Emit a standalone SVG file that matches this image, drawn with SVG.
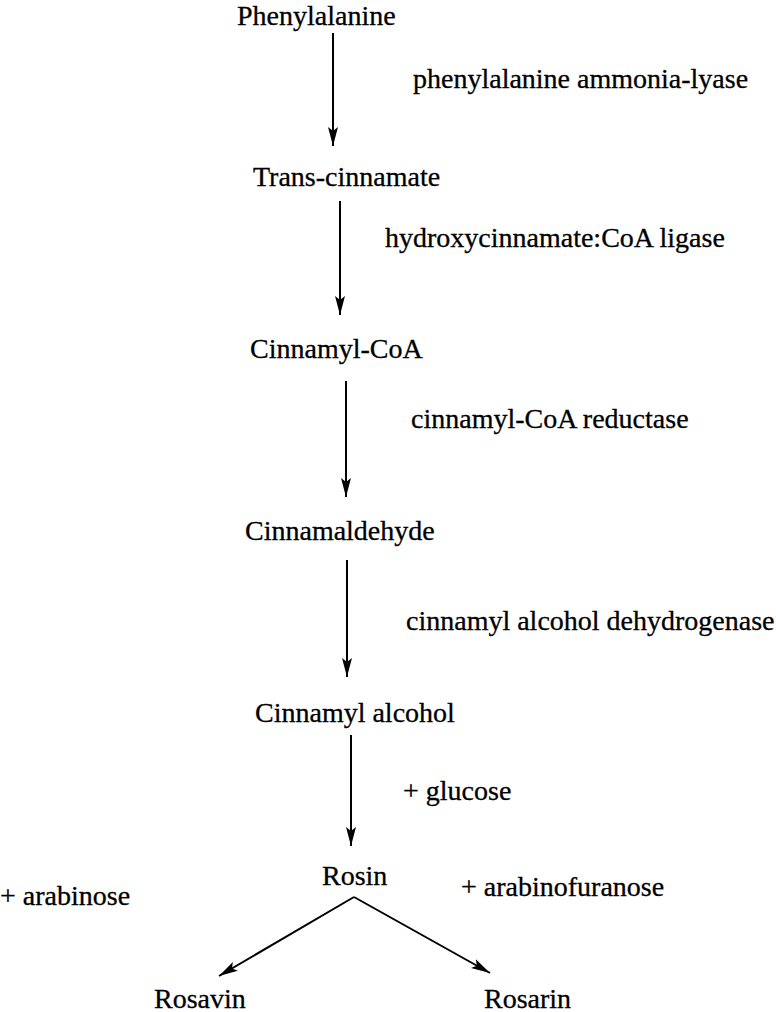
<svg xmlns="http://www.w3.org/2000/svg" width="776" height="1012" viewBox="0 0 776 1012">
<style>
text{font-family:"Liberation Serif","Times New Roman",serif;font-size:28px;fill:#000;stroke:#000;stroke-width:0.3}
.c line{stroke:#000;stroke-width:2;fill:none}
</style>
<defs>
<marker id="ah" viewBox="0 0 20 12" refX="19" refY="6" markerWidth="20" markerHeight="12" markerUnits="userSpaceOnUse" orient="auto">
<path d="M0,1 L19,6 L0,11 L4,6 Z" fill="#000"/>
</marker>
</defs>
<rect width="776" height="1012" fill="#fff"/>
<g id="n-phe"><text x="237" y="25">Phenylalanine</text></g>
<g id="n-trans"><text x="253" y="186">Trans-cinnamate</text></g>
<g id="n-ccoa"><text x="250" y="358">Cinnamyl-CoA</text></g>
<g id="n-cald"><text x="245" y="540">Cinnamaldehyde</text></g>
<g id="n-calc"><text x="255" y="722">Cinnamyl alcohol</text></g>
<g id="n-rosin"><text x="322" y="885">Rosin</text></g>
<g id="n-rosavin"><text x="154" y="1008">Rosavin</text></g>
<g id="n-rosarin"><text x="484" y="1008">Rosarin</text></g>
<g id="labels">
<text x="413" y="88">phenylalanine ammonia-lyase</text>
<text x="385" y="247">hydroxycinnamate:CoA ligase</text>
<text x="411" y="428">cinnamyl-CoA reductase</text>
<text x="406" y="630">cinnamyl alcohol dehydrogenase</text>
<text x="403" y="800">+ glucose</text>
<text x="0" y="905">+ arabinose</text>
<text x="461" y="896">+ arabinofuranose</text>
</g>
<g id="connectors" class="c">
<line x1="333" y1="33" x2="333" y2="146" marker-end="url(#ah)"/>
<line x1="340" y1="201" x2="340" y2="315" marker-end="url(#ah)"/>
<line x1="346" y1="381" x2="346" y2="497" marker-end="url(#ah)"/>
<line x1="347" y1="560" x2="347" y2="677" marker-end="url(#ah)"/>
<line x1="351" y1="735" x2="351" y2="846" marker-end="url(#ah)"/>
<line x1="354" y1="897" x2="219" y2="976" marker-end="url(#ah)"/>
<line x1="354" y1="897" x2="490" y2="973" marker-end="url(#ah)"/>
</g>
</svg>
